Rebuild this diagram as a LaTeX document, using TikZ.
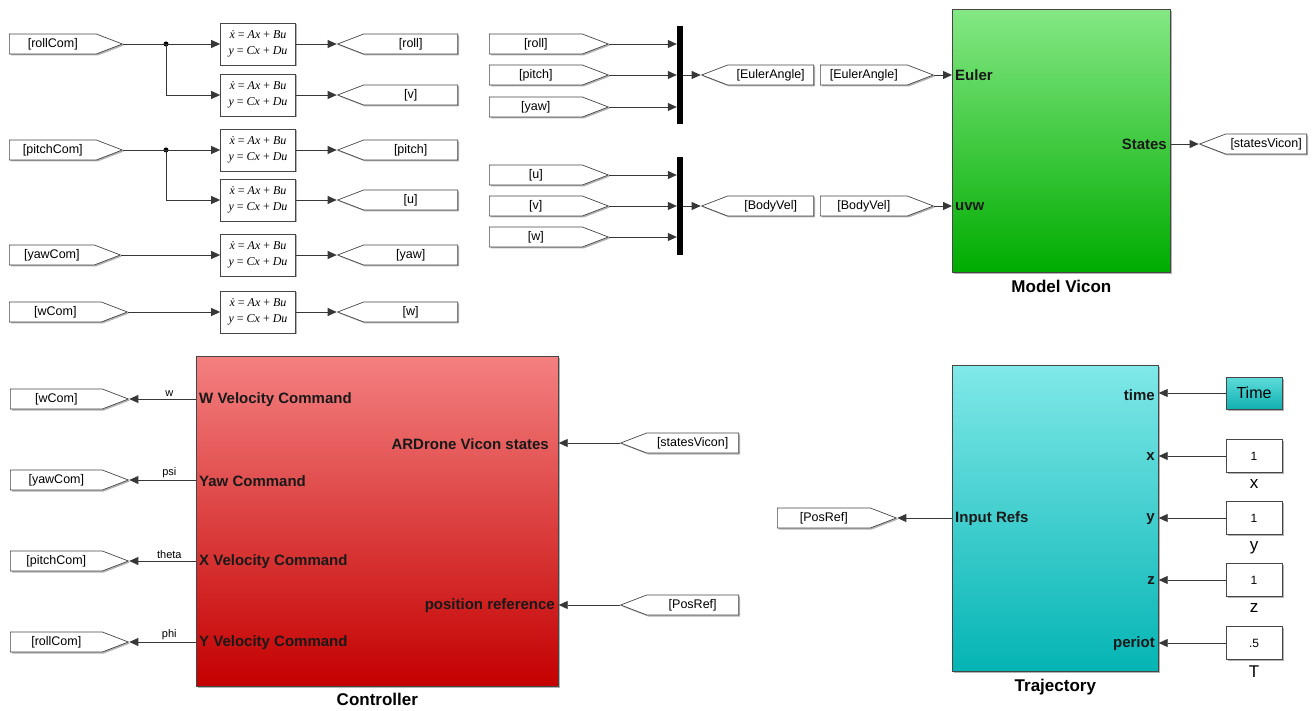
\documentclass[tikz,border=0pt]{standalone}
\usepackage{fontspec}
\setmainfont{Liberation Sans}
\newfontfamily\ssfont{Liberation Serif}
\usetikzlibrary{shapes.symbols, arrows.meta, positioning, shadows}
\definecolor{ctrltop}{RGB}{244,128,128}
\definecolor{ctrlbot}{RGB}{196,0,0}
\definecolor{vicontop}{RGB}{132,232,132}
\definecolor{viconbot}{RGB}{0,172,0}
\definecolor{trajtop}{RGB}{128,232,232}
\definecolor{trajbot}{RGB}{4,180,180}
\definecolor{timetop}{RGB}{96,220,220}
\definecolor{timebot}{RGB}{16,176,176}
\definecolor{wirecol}{RGB}{55,55,55}
\definecolor{edgecol}{RGB}{70,70,70}
\newcommand{\ssform}{\textit{ẋ} = \textit{Ax} + \textit{Bu}\\[1pt]\textit{y} = \textit{Cx} + \textit{Du}}

\tikzset{
  simshadow/.style={drop shadow={shadow xshift=1.5pt, shadow yshift=-1.5pt, fill=black, opacity=0.3}},
  tagtoright/.style={signal, signal to=east, signal pointer angle=42, draw=edgecol, fill=white, line width=0.7pt,
    minimum height=20pt, inner sep=2pt, font=\fontsize{12.5}{14}\selectfont, simshadow},
  tagtoleft/.style={tagtoright, signal to=west},
  ssblock/.style={rectangle, draw=edgecol, fill=white, line width=0.7pt, minimum width=75pt, minimum height=42pt,
    align=center, inner sep=1pt, font=\ssfont\fontsize{12}{15}\selectfont, simshadow},
  muxbar/.style={rectangle, fill=black, minimum width=6pt, inner sep=0pt},
  junction/.style={circle, fill=black, minimum size=5pt, inner sep=0pt},
  sig/.style={draw=wirecol, line width=0.8pt, -{Triangle[length=9pt, width=8pt]}},
  bigblock/.style={rectangle, draw=edgecol, line width=0.7pt, anchor=north west, simshadow},
  portlbl/.style={font=\bfseries\fontsize{15}{17}\selectfont, inner sep=3pt, text=black!90},
  blockname/.style={font=\bfseries\fontsize{17}{19}\selectfont, inner sep=1pt},
  wirelbl/.style={font=\fontsize{11}{13}\selectfont, inner sep=2pt, above, pos=0.4},
  constblk/.style={rectangle, draw=edgecol, fill=white, line width=0.7pt, minimum width=56pt, minimum height=33pt,
    font=\fontsize{12}{14}\selectfont, simshadow},
  constname/.style={font=\fontsize{17}{19}\selectfont, inner sep=1pt}
}

\begin{document}
\begin{tikzpicture}[x=1pt, y=-1pt]
\useasboundingbox (0,0) rectangle (1315,711);

% linearised attitude and velocity models
\node[tagtoright, minimum width=113pt, anchor=west] (rollcom) at (9,44) {[rollCom]};
\node[tagtoright, minimum width=113pt, anchor=west] (pitchcom) at (9,150) {[pitchCom]};
\node[tagtoright, minimum width=111pt, anchor=west] (yawcom) at (9,255) {[yawCom]};
\node[tagtoright, minimum width=118pt, anchor=west] (wcom) at (9,312) {[wCom]};

\node[ssblock] (ssroll) at (258,44) {\ssform};
\node[ssblock] (ssv) at (258,95) {\ssform};
\node[ssblock] (sspitch) at (258,150) {\ssform};
\node[ssblock] (ssu) at (258,200) {\ssform};
\node[ssblock] (ssyaw) at (258,255) {\ssform};
\node[ssblock] (ssw) at (258,312) {\ssform};

\node[tagtoleft, minimum width=120pt, anchor=east] (groll) at (458,44) {[roll]};
\node[tagtoleft, minimum width=120pt, anchor=east] (gv) at (458,95) {[v]};
\node[tagtoleft, minimum width=120pt, anchor=east] (gpitch) at (458,150) {[pitch]};
\node[tagtoleft, minimum width=120pt, anchor=east] (gu) at (458,200) {[u]};
\node[tagtoleft, minimum width=120pt, anchor=east] (gyaw) at (458,255) {[yaw]};
\node[tagtoleft, minimum width=120pt, anchor=east] (gw) at (458,312) {[w]};

\node[junction] (jroll) at (166,44) {};
\node[junction] (jpitch) at (166,150) {};

\draw[sig] (rollcom.east) -- (ssroll.west);
\draw[sig] (jroll.center) |- (ssv.west);
\draw[sig] (pitchcom.east) -- (sspitch.west);
\draw[sig] (jpitch.center) |- (ssu.west);
\draw[sig] (yawcom.east) -- (ssyaw.west);
\draw[sig] (wcom.east) -- (ssw.west);
\foreach \src/\dst in {ssroll/groll, ssv/gv, sspitch/gpitch, ssu/gu, ssyaw/gyaw, ssw/gw}
  \draw[sig] (\src.east) -- (\dst.west);

% muxes
\node[tagtoright, minimum width=119pt, anchor=west] (froll) at (489,44) {[roll]};
\node[tagtoright, minimum width=119pt, anchor=west] (fpitch) at (489,75) {[pitch]};
\node[tagtoright, minimum width=119pt, anchor=west] (fyaw) at (489,107) {[yaw]};
\node[tagtoright, minimum width=119pt, anchor=west] (fu) at (489,175) {[u]};
\node[tagtoright, minimum width=119pt, anchor=west] (fv) at (489,206) {[v]};
\node[tagtoright, minimum width=119pt, anchor=west] (fw) at (489,237) {[w]};
\node[muxbar, minimum height=98pt] (muxeuler) at (680,75) {};
\node[muxbar, minimum height=98pt] (muxvel) at (680,206) {};
\foreach \src/\dst in {froll/muxeuler, fpitch/muxeuler, fyaw/muxeuler, fu/muxvel, fv/muxvel, fw/muxvel}
  \draw[sig] (\src.east) -- (\src.east -| \dst.west);

\node[tagtoleft, minimum width=112pt, anchor=east] (geuler) at (814,75) {[EulerAngle]};
\node[tagtoleft, minimum width=112pt, anchor=east] (gvel) at (814,206) {[BodyVel]};
\node[tagtoright, minimum width=113pt, anchor=west] (feuler) at (820,75) {[EulerAngle]};
\node[tagtoright, minimum width=113pt, anchor=west] (fvel) at (820,206) {[BodyVel]};
\draw[sig] (muxeuler.east) -- (geuler.west);
\draw[sig] (muxvel.east) -- (gvel.west);

% Model Vicon
\node[bigblock, top color=vicontop, bottom color=viconbot, minimum width=218pt, minimum height=263pt] (vicon) at (952,9) {};
\node[blockname, below=6pt of vicon] {Model Vicon};
\node[portlbl, anchor=west] at (952,75) {Euler};
\node[portlbl, anchor=west] at (952,207) {uvw};
\node[portlbl, anchor=east] at (1170,144) {States};
\node[tagtoleft, minimum width=107pt, anchor=east] (gstates) at (1307,144) {[statesVicon]};
\draw[sig] (feuler.east) -- (feuler.east -| vicon.west);
\draw[sig] (fvel.east) -- (fvel.east -| vicon.west);
\draw[sig] (vicon.east |- gstates.west) -- (gstates.west);

% Controller
\node[bigblock, top color=ctrltop, bottom color=ctrlbot, minimum width=362pt, minimum height=330pt] (ctrl) at (196,356) {};
\node[blockname, below=5pt of ctrl] {Controller};
\node[portlbl, anchor=west] at (196,400) {W Velocity Command};
\node[portlbl, anchor=west] at (196,481) {Yaw Command};
\node[portlbl, anchor=west] at (196,562) {X Velocity Command};
\node[portlbl, anchor=west] at (196,643) {Y Velocity Command};
\node[portlbl, anchor=east] at (552,444) {ARDrone Vicon states};
\node[portlbl, anchor=east] at (558,606) {position reference};

\node[tagtoright, minimum width=118pt, anchor=west] (cwcom) at (10,399) {[wCom]};
\node[tagtoright, minimum width=118pt, anchor=west] (cyawcom) at (10,480) {[yawCom]};
\node[tagtoright, minimum width=118pt, anchor=west] (cpitchcom) at (10,561) {[pitchCom]};
\node[tagtoright, minimum width=118pt, anchor=west] (crollcom) at (10,642) {[rollCom]};
\draw[sig] (ctrl.west |- cwcom.east) -- node[wirelbl] {w} (cwcom.east);
\draw[sig] (ctrl.west |- cyawcom.east) -- node[wirelbl] {psi} (cyawcom.east);
\draw[sig] (ctrl.west |- cpitchcom.east) -- node[wirelbl] {theta} (cpitchcom.east);
\draw[sig] (ctrl.west |- crollcom.east) -- node[wirelbl] {phi} (crollcom.east);

\node[tagtoleft, minimum width=118pt, anchor=east] (fstates) at (739,443) {[statesVicon]};
\node[tagtoleft, minimum width=118pt, anchor=east] (fposref) at (739,605) {[PosRef]};
\draw[sig] (fstates.west) -- (fstates.west -| ctrl.east);
\draw[sig] (fposref.west) -- (fposref.west -| ctrl.east);

% Trajectory
\node[bigblock, top color=trajtop, bottom color=trajbot, minimum width=206pt, minimum height=306pt] (traj) at (952,365) {};
\node[blockname, below=6pt of traj] {Trajectory};
\node[portlbl, anchor=west] at (952,519) {Input Refs};
\node[portlbl, anchor=east] at (1158,395) {time};
\node[portlbl, anchor=east] at (1158,457) {x};
\node[portlbl, anchor=east] at (1158,519) {y};
\node[portlbl, anchor=east] at (1158,581) {z};
\node[portlbl, anchor=east] at (1158,644) {periot};

\node[tagtoright, minimum width=119pt, anchor=west] (gposref) at (777,518) {[PosRef]};
\draw[sig] (traj.west |- gposref.east) -- (gposref.east);

\node[rectangle, draw=edgecol, line width=0.7pt, top color=timetop, bottom color=timebot, minimum width=56pt,
  minimum height=32pt, font=\fontsize{16}{18}\selectfont, simshadow] (ttime) at (1254,393) {Time};
\node[constblk] (cx) at (1254,456) {1};
\node[constblk] (cy) at (1254,518) {1};
\node[constblk] (cz) at (1254,580) {1};
\node[constblk] (cper) at (1254,643) {.5};
\node[constname, below=5pt of cx] {x};
\node[constname, below=5pt of cy] {y};
\node[constname, below=5pt of cz] {z};
\node[constname, below=5pt of cper] {T};
\foreach \src in {ttime, cx, cy, cz, cper}
  \draw[sig] (\src.west) -- (\src.west -| traj.east);
\end{tikzpicture}
\end{document}
